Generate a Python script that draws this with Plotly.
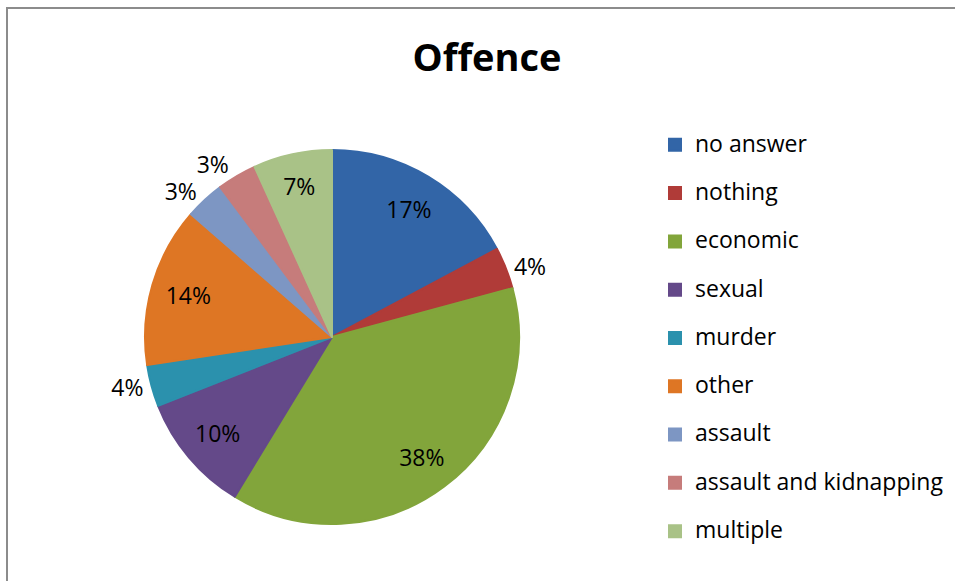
import plotly.graph_objects as go

categories = ["no answer", "nothing", "economic", "sexual", "murder",
              "other", "assault", "assault and kidnapping", "multiple"]
values = [17.2, 3.6, 37.9, 10.3, 3.6, 13.8, 3.4, 3.4, 6.8]
colors = ["#3265A7", "#B03B38", "#82A53B", "#644989", "#2B91AD",
          "#DE7624", "#7D96C3", "#C67C7B", "#A9C287"]
# label placement: two overlay layers so neighbouring outside labels are not pushed apart
label_pos_a = ["inside", "outside", "inside", "inside", "outside",
               "inside", "outside", "none", "inside"]
label_pos_b = ["none", "none", "none", "none", "none",
               "none", "none", "outside", "none"]

FONT = "Open Sans"
W, H = 955, 581
dom_x = [145 / W, 519 / W]
dom_y = [1 - 524 / H, 1 - 150 / H]

legend_labels = ['<span style="font-size:23px">%s</span><br> ' % c for c in categories]

fig = go.Figure()
fig.add_trace(go.Pie(
    labels=legend_labels, values=values, sort=False, direction="clockwise",
    rotation=0, marker=dict(colors=colors, line=dict(color=colors, width=2)),
    textinfo="none", domain=dict(x=dom_x, y=dom_y), hoverinfo="skip",
))
for pos in (label_pos_a, label_pos_b):
    fig.add_trace(go.Pie(
        labels=legend_labels, values=values, sort=False, direction="clockwise",
        rotation=0, hole=0.6, showlegend=False,
        marker=dict(colors=["rgba(0,0,0,0)"] * len(values), line=dict(width=0)),
        texttemplate="%{percent:.0%}", textposition=pos,
        insidetextorientation="horizontal",
        textfont=dict(family=FONT, size=23, color="#000000"),
        domain=dict(x=dom_x, y=dom_y), hoverinfo="skip",
    ))

fig.update_layout(
    width=W, height=H,
    margin=dict(l=0, r=0, t=0, b=0),
    paper_bgcolor="white", plot_bgcolor="white",
    title=dict(text="<b>Offence</b>", x=487 / W, xanchor="center",
               y=1 - 58 / H, yanchor="middle",
               font=dict(family=FONT, size=38, color="#000000")),
    legend=dict(x=655 / W, xanchor="left", y=1 - 127 / H, yanchor="top",
                font=dict(family=FONT, size=17.42, color="#000000"),
                valign="top", traceorder="normal"),
    shapes=[dict(type="rect", xref="paper", yref="paper",
                 x0=7 / W, x1=1.05, y0=-0.05, y1=1 - 8 / H,
                 line=dict(color="#8C8C8C", width=2))],
    font=dict(family=FONT),
)

fig.write_html("out.html", config={"displayModeBar": False},
               post_script="document.body.style.margin='0px';")
